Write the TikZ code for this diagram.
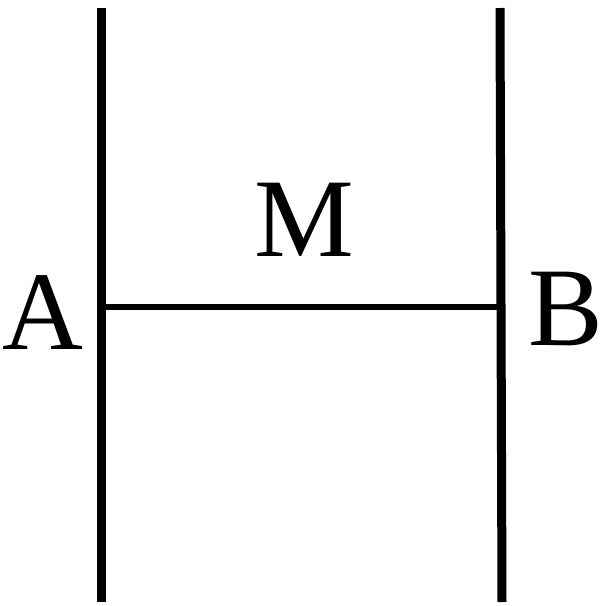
\documentclass[tikz,border=0pt]{standalone}
\usepackage{fontspec}
\setmainfont{Liberation Serif}
\begin{document}
\begin{tikzpicture}[x=1pt,y=-1pt,
  wall/.style={line width=9pt,black},
  rod/.style={line width=6pt,black},
  lbl/.style={anchor=base,inner sep=0pt,font=\fontsize{112}{134}\selectfont}]
\useasboundingbox (0,0) rectangle (604,606);
\coordinate (ltop) at (101,8);
\coordinate (lbot) at (101,602);
\coordinate (rtop) at (500,8);
\coordinate (rbot) at (502,602);
\coordinate (ml) at (101,307);
\coordinate (mr) at (500,307);
\draw[wall] (ltop) -- (lbot);
\draw[wall] (rtop) -- (rbot);
\draw[rod] (ml) -- (mr);
\node[lbl] (A) at (43,349) {A};
\node[lbl] (M) at (304,256) {M};
\node[lbl] (B) at (566,345) {B};
\end{tikzpicture}
\end{document}
